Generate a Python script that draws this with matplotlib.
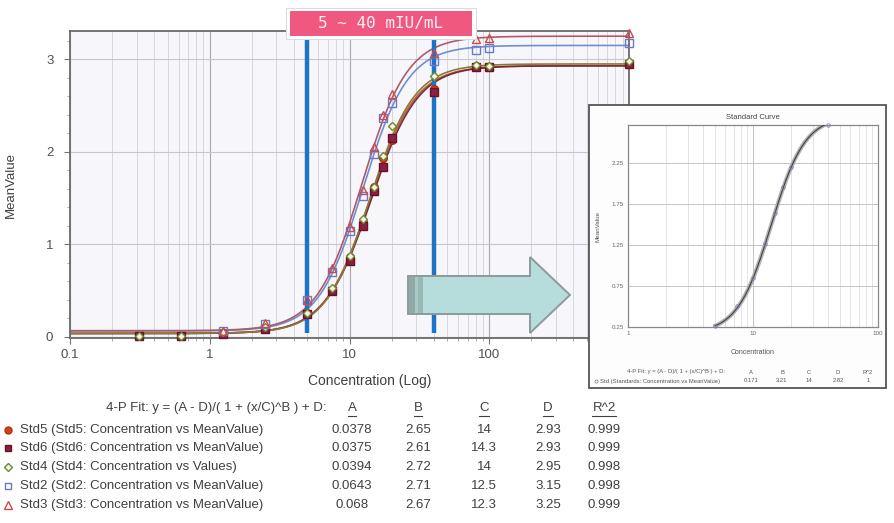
import numpy as np
import matplotlib
matplotlib.use('Agg')
import matplotlib.pyplot as plt
from matplotlib.lines import Line2D
from matplotlib.patches import Rectangle, Polygon, FancyBboxPatch
from matplotlib.ticker import MultipleLocator, LogLocator, NullFormatter, FixedLocator, FixedFormatter

plt.rcParams['font.family'] = ['Liberation Sans', 'DejaVu Sans']

# ---------------- data ----------------
conc = [0.3125, 0.625, 1.25, 2.5, 5, 7.5, 10, 12.5, 15, 17.5, 20, 40, 80, 100, 1000]
nan = np.nan
std5 = [0.015, 0.015, 0.04, 0.10, 0.26, 0.51, 0.86, 1.24, 1.62, 1.93, 2.13, 2.68, 2.93, 2.92, 2.96]
std6 = [0.01, 0.01, 0.03, 0.09, 0.25, 0.50, 0.82, 1.20, 1.58, 1.84, 2.15, 2.65, 2.92, 2.92, 2.95]
std4 = [0.015, 0.015, 0.05, 0.11, 0.26, 0.53, 0.87, 1.27, 1.62, 1.96, 2.28, 2.82, 2.94, 2.93, 2.98]
std2 = [nan, nan, 0.06, 0.14, 0.40, 0.70, 1.14, 1.52, 1.98, 2.37, 2.53, 2.98, 3.10, 3.12, 3.18]
std3 = [nan, nan, 0.07, 0.15, 0.40, 0.74, 1.19, 1.59, 2.05, 2.40, 2.62, 3.07, 3.22, 3.23, 3.28]

series_names = ['Std5', 'Std6', 'Std4', 'Std2', 'Std3']
series_desc = ['Std5 (Std5: Concentration vs MeanValue)',
               'Std6 (Std6: Concentration vs MeanValue)',
               'Std4 (Std4: Concentration vs Values)',
               'Std2 (Std2: Concentration vs MeanValue)',
               'Std3 (Std3: Concentration vs MeanValue)']
fit_A = [0.0378, 0.0375, 0.0394, 0.0643, 0.068]
fit_B = [2.65, 2.61, 2.72, 2.71, 2.67]
fit_C = [14, 14.3, 14, 12.5, 12.3]
fit_D = [2.93, 2.93, 2.95, 3.15, 3.25]
fit_R2 = [0.999, 0.999, 0.998, 0.998, 0.999]

range_bounds = [5, 40]
range_label = '5 ~ 40 mIU/mL'

inset_conc = [5, 7.5, 10, 12.5, 15, 17.5, 20, 40]
inset_vals = [0.26, 0.50, 0.85, 1.26, 1.64, 1.95, 2.20, 2.71]
inset_fit = [0.171, 3.21, 14, 2.82, 1]  # A, B, C, D, R^2
inset_yticks = [0.25, 0.75, 1.25, 1.75, 2.25]

# ---------------- styles ----------------
marker_style = [
    dict(marker='o', mfc='#d8401c', mec='#b03010', ms=5.5),
    dict(marker='s', mfc='#8a1f3f', mec='#6a1028', ms=5.5),
    dict(marker='D', mfc='#f4f4e8', mec='#6f8a2a', ms=4.5),
    dict(marker='s', mfc='none', mec='#6c78c8', ms=5.5),
    dict(marker='^', mfc='none', mec='#d04848', ms=6),
]
fit_colors = ['#b8603c', '#7a2a3a', '#8a7a3a', '#6f8fd0', '#b05a66']

W, H = 894, 523
def fx(px): return px / W
def fy(py): return 1 - py / H

def fourpl(x, A, B, C, D):
    x = np.asarray(x, float)
    return (A - D) / (1 + (x / C) ** B) + D

fig = plt.figure(figsize=(W / 100, H / 100), dpi=100)
fig.patch.set_facecolor('white')

# ---------------- main axes ----------------
ax = fig.add_axes([fx(70), fy(338), fx(629) - fx(70), fy(31) - fy(338)])
ax.set_facecolor('#f7f7fb')
ax.set_xscale('log')
ax.set_xlim(0.1, 1000)
ax.set_ylim(-0.011, 3.306)

ax.xaxis.set_major_locator(LogLocator(base=10, numticks=10))
ax.xaxis.set_minor_locator(LogLocator(base=10, subs=np.arange(2, 10), numticks=20))
ax.xaxis.set_minor_formatter(NullFormatter())
ax.set_xticks([0.1, 1, 10, 100, 1000])
ax.set_xticklabels(['0.1', '1', '10', '100', '1000'])
ax.set_yticks([0, 1, 2, 3])
ax.yaxis.set_minor_locator(MultipleLocator(0.2))

ax.grid(which='major', axis='x', color='#a8a8b2', lw=0.8)
ax.grid(which='minor', axis='x', color='#d6d6e0', lw=0.7)
ax.grid(which='major', axis='y', color='#c6c6d0', lw=0.8)
ax.set_axisbelow(True)

for s in ax.spines.values():
    s.set_color('#6a6a6a')
    s.set_linewidth(1.3)
ax.tick_params(which='major', length=4, color='#777777', labelsize=9.5,
               labelcolor='#505050', pad=4)
ax.tick_params(which='minor', length=2.5, color='#999999')
ax.tick_params(axis='y', pad=8)

xs = np.logspace(-1, 3, 500)
for i in range(5):
    ax.plot(xs, fourpl(xs, fit_A[i], fit_B[i], fit_C[i], fit_D[i]),
            color=fit_colors[i], lw=1.2, zorder=2)

for b in range_bounds:
    ax.axvline(b, ymin=(0.04 + 0.011) / 3.317, ymax=1.0, color='#1d73c4',
               lw=3.2, zorder=3, solid_capstyle='butt')

all_vals = [std5, std6, std4, std2, std3]
for i in range(5):
    ax.plot(conc, all_vals[i], ls='none', mew=1.0, zorder=4, clip_on=False,
            **marker_style[i])

fig.text(fx(11), fy(185), 'MeanValue', rotation=90, ha='center', va='center',
         fontsize=9.5, color='#404040')
fig.text(fx(370), fy(381), 'Concentration (Log)', ha='center', va='center',
         fontsize=10, color='#404040')

# ---------------- table under main chart ----------------
col_x = [352, 418, 484, 548, 604]
col_names = ['A', 'B', 'C', 'D', 'R^2']
header_y = 408
row_y = [430, 448, 467, 486, 505]
fig.text(fx(326), fy(header_y), '4-P Fit: y = (A - D)/( 1 + (x/C)^B ) + D:',
         ha='right', va='center', fontsize=9.5, color='#404040')
fig.canvas.draw()
renderer = fig.canvas.get_renderer()
for cx, cn in zip(col_x, col_names):
    t = fig.text(fx(cx), fy(header_y), cn, ha='center', va='center',
                 fontsize=9.5, color='#404040')
    bb = t.get_window_extent(renderer)
    fig.add_artist(Line2D([bb.x0 / W, bb.x1 / W], [fy(header_y + 8)] * 2,
                          transform=fig.transFigure, color='#404040', lw=0.8))
cols = [fit_A, fit_B, fit_C, fit_D, fit_R2]
for i in range(5):
    y = row_y[i]
    ms = dict(marker_style[i])
    ms['ms'] = ms['ms'] - 0.5
    fig.add_artist(Line2D([fx(8)], [fy(y)], transform=fig.transFigure,
                          ls='none', mew=1.0, **ms))
    fig.text(fx(20), fy(y), series_desc[i], ha='left', va='center',
             fontsize=9.5, color='#404040')
    for cx, col in zip(col_x, cols):
        fig.text(fx(cx), fy(y), f'{col[i]:g}', ha='center', va='center',
                 fontsize=9.5, color='#404040')

# ---------------- range label box ----------------
fig.add_artist(Rectangle((fx(286), fy(39)), fx(476) - fx(286), fy(8) - fy(39),
                         transform=fig.transFigure, facecolor='white',
                         edgecolor='#dcdcdc', lw=0.8, zorder=10))
fig.add_artist(Rectangle((fx(290), fy(36)), fx(472) - fx(290), fy(11) - fy(36),
                         transform=fig.transFigure, facecolor='#f0587f',
                         edgecolor='none', zorder=11))
fig.text(fx(381), fy(23.5), range_label, ha='center', va='center',
         family='DejaVu Sans Mono', fontsize=11.5, color='#fff0f4', zorder=12)

# ---------------- block arrow ----------------
arrow_pts = [(408, 276), (530, 276), (530, 257), (570, 295), (530, 333),
             (530, 314), (408, 314)]
fig.add_artist(Polygon([(fx(a), fy(b)) for a, b in arrow_pts], closed=True,
                       transform=fig.transFigure, facecolor='#b6dcdb',
                       edgecolor='#8c9a9a', lw=1.4, zorder=10))
for x0, x1, c in [(409, 415, '#90aaa8'), (415, 418, '#a9c9c7'), (418, 423, '#98b8b6')]:
    fig.add_artist(Rectangle((fx(x0), fy(313)), fx(x1) - fx(x0), fy(277) - fy(313),
                             transform=fig.transFigure, facecolor=c,
                             edgecolor='none', zorder=11))

# ---------------- inset screenshot ----------------
fig.add_artist(Rectangle((fx(589), fy(388)), fx(886) - fx(589), fy(105) - fy(388),
                         transform=fig.transFigure, facecolor='#fdfdfd',
                         edgecolor='#555555', lw=1.3, zorder=20))
ax2 = fig.add_axes([fx(628), fy(327), fx(878) - fx(628), fy(125) - fy(327)],
                   zorder=25)
ax2.set_facecolor('white')
ax2.set_xscale('log')
ax2.set_xlim(1, 100)
ax2.set_ylim(0.25, 2.71)
ax2.set_xticks([1, 10, 100])
ax2.set_xticklabels(['1', '10', '100'])
ax2.xaxis.set_minor_locator(LogLocator(base=10, subs=np.arange(2, 10), numticks=20))
ax2.xaxis.set_minor_formatter(NullFormatter())
ax2.set_yticks(inset_yticks)
ax2.set_yticklabels([f'{v:g}' for v in inset_yticks])
ax2.grid(which='major', color='#c4c4c4', lw=0.7)
ax2.grid(which='minor', axis='x', color='#dedede', lw=0.6)
ax2.set_axisbelow(True)
for s in ax2.spines.values():
    s.set_color('#888888')
    s.set_linewidth(0.9)
ax2.tick_params(which='both', length=0, labelsize=4.5, labelcolor='#666666', pad=3)
ax2.set_title('Standard Curve', fontsize=5.5, color='#444444', pad=4)
ax2.set_xlabel('Concentration', fontsize=5, color='#555555', labelpad=9)
ax2.set_ylabel('MeanValue', fontsize=4.5, color='#555555', labelpad=8)
xi = np.logspace(np.log10(inset_conc[0]), np.log10(inset_conc[-1]), 200)
yi = fourpl(xi, *inset_fit[:4])
ax2.plot(xi, yi, color='#b0b0b0', lw=3.0, zorder=2)
ax2.plot(xi, yi, color='#404040', lw=0.8, zorder=3)
ax2.plot(inset_conc, inset_vals, ls='none', marker='o', ms=2.5, mfc='none',
         mec='#8a7ab0', mew=0.6, zorder=4, clip_on=False)

ins_cols = [751, 782, 809, 838, 868]
fig.text(fx(725), fy(372), '4-P Fit: y = (A - D)/( 1 + (x/C)^B ) + D:', ha='right',
         va='center', fontsize=4.2, color='#555555', zorder=30)
for cx, cn in zip(ins_cols, col_names):
    fig.text(fx(cx), fy(372), cn, ha='center', va='center', fontsize=4.2,
             color='#555555', zorder=30)
fig.add_artist(Line2D([fx(596)], [fy(381)], transform=fig.transFigure, ls='none',
                      marker='o', ms=2.2, mfc='none', mec='#777777', mew=0.5,
                      zorder=30))
fig.text(fx(600), fy(381), 'Std (Standards: Concentration vs MeanValue)', ha='left',
         va='center', fontsize=4.2, color='#555555', zorder=30)
for cx, v in zip(ins_cols, inset_fit):
    fig.text(fx(cx), fy(381), f'{v:g}', ha='center', va='center', fontsize=4.2,
             color='#555555', zorder=30)

fig.savefig('out.png', dpi=100, facecolor='white')
